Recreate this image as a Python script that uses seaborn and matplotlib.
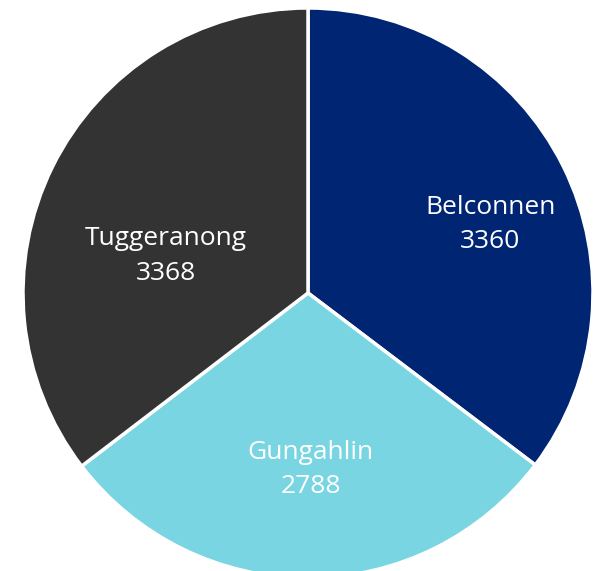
import matplotlib
matplotlib.use("Agg")
import matplotlib.pyplot as plt
import seaborn as sns

regions = ["Belconnen", "Gungahlin", "Tuggeranong"]
counts = [3360, 2788, 3368]
colours = ["#002573", "#7AD5E2", "#333333"]

sns.set_style("white")
plt.rcParams['font.family'] = ['Open Sans', 'DejaVu Sans']

fig = plt.figure(figsize=(5.97, 5.71), dpi=100)
ax = fig.add_axes([23 / 597, -7 / 571, 570 / 597, 570 / 571])

wedges, texts = ax.pie(
    counts,
    labels=[f"{r}\n{c}" for r, c in zip(regions, counts)],
    colors=sns.color_palette(colours),
    startangle=90,
    counterclock=False,
    radius=1.0,
    labeldistance=0.6,
    wedgeprops=dict(edgecolor="white", linewidth=2.5),
    textprops=dict(color="white", fontsize=19, ha="center", va="center",
                   linespacing=1.5),
)

# nudge labels to where the reference puts them
label_pos = [(0.64, 0.24), (0.01, -0.62), (-0.50, 0.13)]
for t, p in zip(texts, label_pos):
    t.set_position(p)
    t.set_ha("center")
    t.set_va("center")

ax.set_xlim(-1, 1)
ax.set_ylim(-1, 1)
ax.set_aspect("equal")
ax.axis("off")

fig.savefig("out.png", dpi=100)
